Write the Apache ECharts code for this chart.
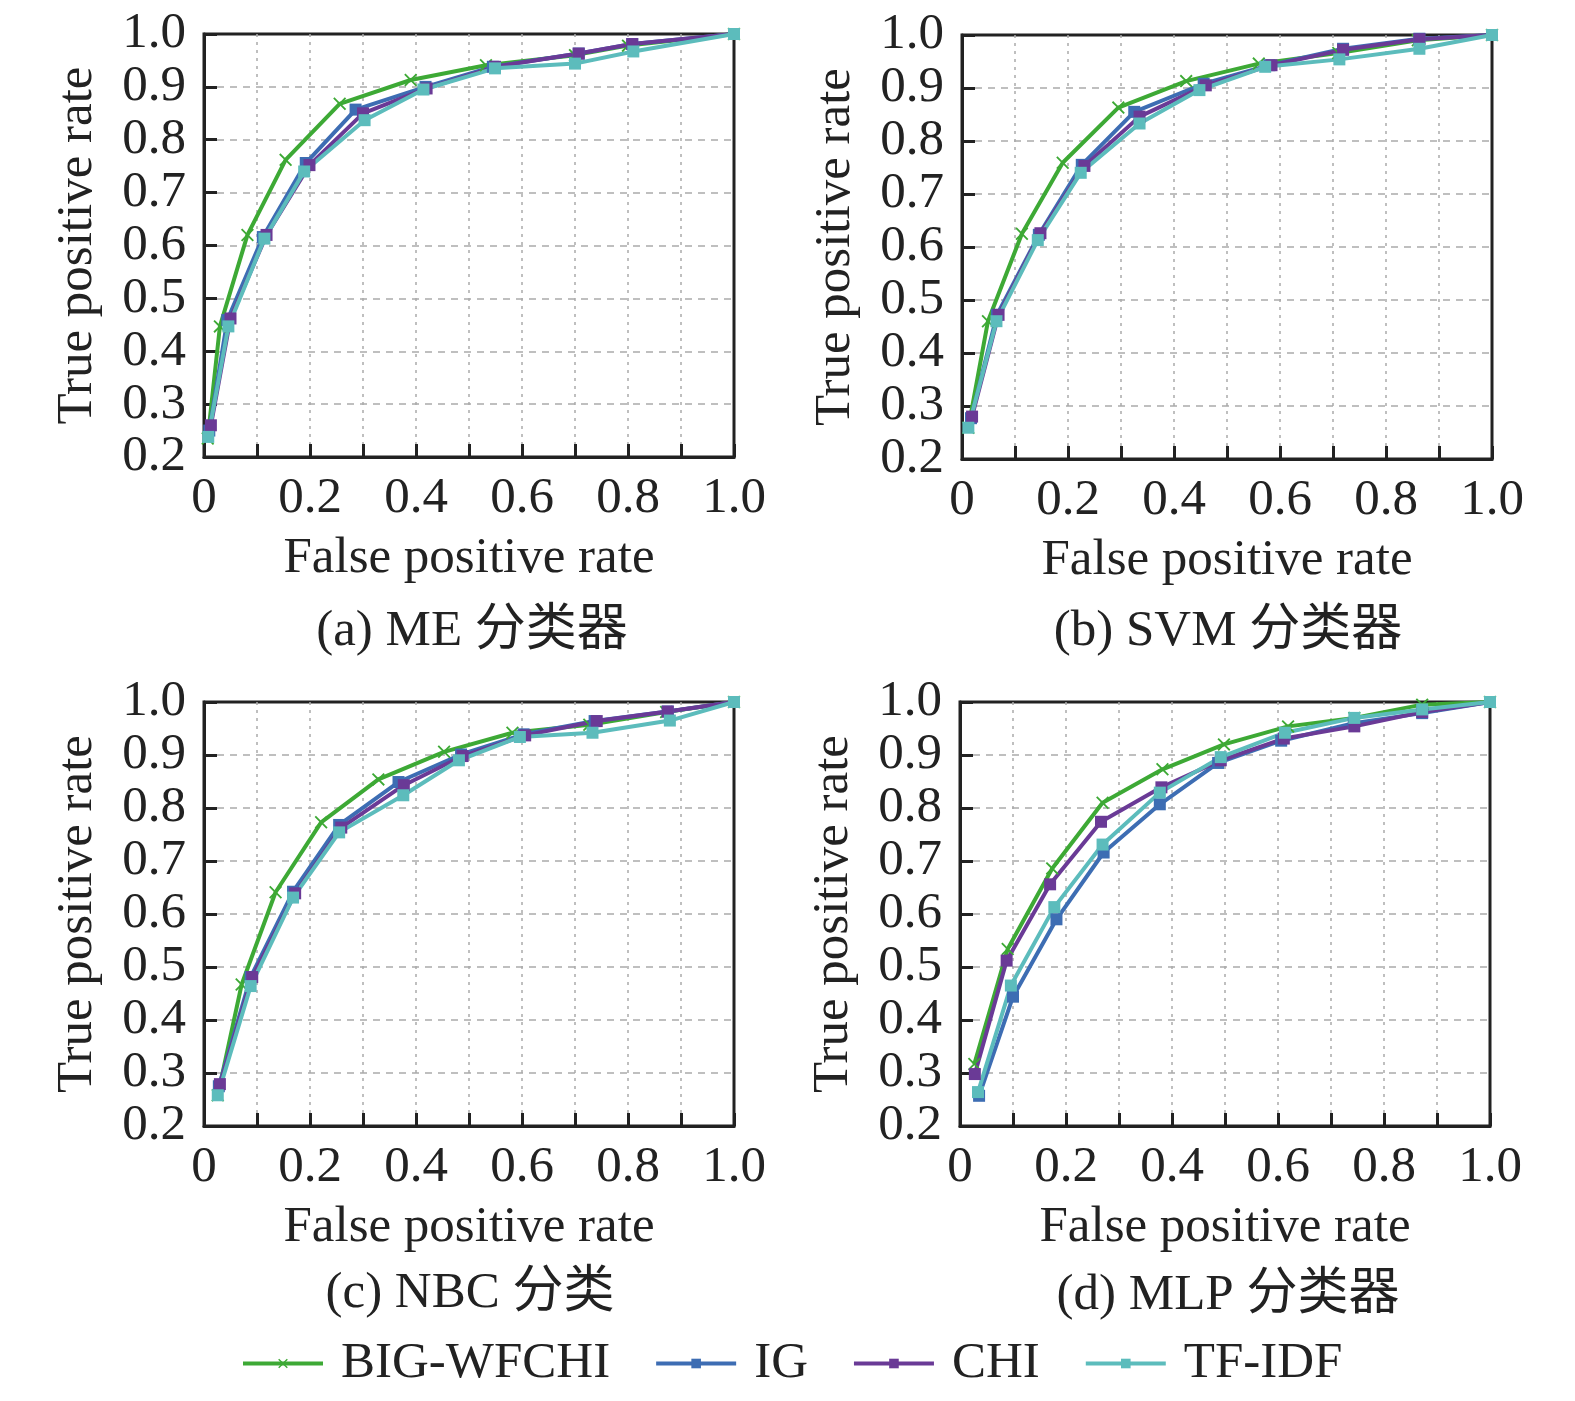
<!DOCTYPE html>
<html>
<head>
<meta charset="utf-8">
<script src="https://cdn.jsdelivr.net/npm/echarts@6/dist/echarts.min.js"></script>
<style>
  html, body { margin: 0; padding: 0; background: #fff; }
  #chart { width: 1575px; height: 1401px; }
</style>
</head>
<body>
<div id="chart"></div>
<script>
// ROC 曲线数据 [FPR, TPR]
var methodNames = ["BIG-WFCHI", "IG", "CHI", "TF-IDF"];
var methodColors = ["#3da935", "#3d6db3", "#6a3a96", "#5cbcbc"];
var captions = ["(a) ME 分类器", "(b) SVM 分类器", "(c) NBC 分类", "(d) MLP 分类器"];
var xTickLabels = ["0", "0.2", "0.4", "0.6", "0.8", "1.0"];
var yTickLabels = ["0.2", "0.3", "0.4", "0.5", "0.6", "0.7", "0.8", "0.9", "1.0"];

// (a) ME
var meBig = [[0.007,0.235],[0.03,0.447],[0.082,0.62],[0.154,0.762],[0.256,0.868],[0.39,0.913],[0.532,0.941],[0.70,0.96],[0.80,0.978],[1,1]];
var meIg  = [[0.01,0.25],[0.044,0.459],[0.111,0.616],[0.192,0.756],[0.286,0.857],[0.418,0.90],[0.545,0.938],[0.707,0.963],[0.808,0.981],[1,1]];
var meChi = [[0.013,0.26],[0.05,0.462],[0.118,0.62],[0.199,0.752],[0.30,0.85],[0.42,0.897],[0.549,0.938],[0.707,0.963],[0.808,0.981],[1,1]];
var meTf  = [[0.008,0.238],[0.046,0.447],[0.114,0.613],[0.189,0.74],[0.303,0.837],[0.414,0.895],[0.549,0.935],[0.70,0.944],[0.81,0.967],[1,1]];

// (b) SVM
var svmBig = [[0.012,0.259],[0.049,0.46],[0.113,0.625],[0.19,0.759],[0.295,0.863],[0.423,0.913],[0.56,0.946],[0.71,0.966],[0.86,0.99],[1,1]];
var svmIg  = [[0.017,0.277],[0.066,0.472],[0.145,0.623],[0.226,0.755],[0.325,0.855],[0.456,0.908],[0.58,0.943],[0.719,0.974],[0.863,0.993],[1,1]];
var svmChi = [[0.019,0.28],[0.069,0.472],[0.148,0.626],[0.231,0.753],[0.335,0.846],[0.46,0.905],[0.584,0.943],[0.719,0.972],[0.863,0.992],[1,1]];
var svmTf  = [[0.012,0.259],[0.065,0.46],[0.143,0.613],[0.224,0.74],[0.335,0.833],[0.448,0.896],[0.572,0.94],[0.712,0.954],[0.863,0.974],[1,1]];

// (c) NBC
var nbcBig = [[0.026,0.258],[0.071,0.467],[0.135,0.641],[0.221,0.773],[0.329,0.854],[0.453,0.906],[0.582,0.942],[0.727,0.957],[0.872,0.981],[1,1]];
var nbcIg  = [[0.028,0.275],[0.088,0.481],[0.168,0.642],[0.255,0.768],[0.367,0.849],[0.485,0.901],[0.603,0.939],[0.737,0.964],[0.875,0.982],[1,1]];
var nbcChi = [[0.03,0.279],[0.091,0.481],[0.172,0.639],[0.259,0.763],[0.377,0.843],[0.488,0.898],[0.606,0.937],[0.741,0.964],[0.875,0.982],[1,1]];
var nbcTf  = [[0.026,0.258],[0.088,0.464],[0.168,0.631],[0.255,0.754],[0.376,0.824],[0.481,0.89],[0.596,0.934],[0.733,0.942],[0.879,0.965],[1,1]];

// (d) MLP
var mlpBig = [[0.027,0.317],[0.09,0.534],[0.174,0.686],[0.269,0.81],[0.382,0.873],[0.498,0.92],[0.619,0.954],[0.744,0.97],[0.872,0.995],[1,1]];
var mlpIg  = [[0.036,0.257],[0.1,0.444],[0.182,0.59],[0.271,0.716],[0.377,0.807],[0.487,0.885],[0.606,0.927],[0.743,0.96],[0.872,0.979],[1,1]];
var mlpChi = [[0.028,0.298],[0.088,0.512],[0.17,0.656],[0.266,0.774],[0.38,0.839],[0.492,0.89],[0.611,0.931],[0.744,0.954],[0.872,0.981],[1,1]];
var mlpTf  = [[0.034,0.264],[0.096,0.465],[0.178,0.613],[0.269,0.731],[0.377,0.829],[0.492,0.896],[0.613,0.942],[0.744,0.97],[0.872,0.986],[1,1]];

var panelData = [
    [meBig, meIg, meChi, meTf],
    [svmBig, svmIg, svmChi, svmTf],
    [nbcBig, nbcIg, nbcChi, nbcTf],
    [mlpBig, mlpIg, mlpChi, mlpTf]
];

var FONT = "'Liberation Serif', 'Noto Sans CJK SC', serif";
var FS = 51;
// 子图位置
var grids = [
    { left: 204, top: 34, width: 530, height: 423 },
    { left: 962, top: 35, width: 530, height: 424 },
    { left: 204, top: 702, width: 530, height: 424 },
    { left: 960, top: 702, width: 530, height: 424 }
];
var captionPos = [[472, 632], [1228, 632], [470, 1294], [1228, 1296]];

var crossPath = "path://M1,0 L5,4 L9,0 L10,1 L6,5 L10,9 L9,10 L5,6 L1,10 L0,9 L4,5 L0,1 Z";
var symbols = [crossPath, "rect", "rect", "rect"];
var symbolSizes = [13, 12, 12, 12];

function fmtX(v) {
    var s = Math.abs(v) < 1e-9 ? "0" : v.toFixed(1);
    return xTickLabels.indexOf(s) >= 0 ? s : "";
}
function fmtY(v) {
    var s = v.toFixed(1);
    return yTickLabels.indexOf(s) >= 0 ? s : "";
}

var xAxes = [], yAxes = [], series = [], graphics = [];
grids.forEach(function(g, i) {
    g.show = true;
    g.borderColor = "#222";
    g.borderWidth = 3;
    g.containLabel = false;
    xAxes.push({
        gridIndex: i, type: "value", min: 0, max: 1, interval: 0.1,
        name: "False positive rate", nameLocation: "middle", nameGap: 76,
        nameTextStyle: { fontFamily: FONT, fontSize: FS, color: "#222" },
        axisLine: { show: true, lineStyle: { color: "#222", width: 3 } },
        axisTick: { show: true, inside: true, length: 13, lineStyle: { color: "#222", width: 3 } },
        axisLabel: { margin: 16, fontFamily: FONT, fontSize: FS, color: "#222", formatter: fmtX, showMinLabel: true, showMaxLabel: true },
        splitLine: { show: true, showMinLine: false, showMaxLine: false, lineStyle: { color: "#aaa", width: 1.5, type: [3, 5] } }
    });
    yAxes.push({
        gridIndex: i, type: "value", min: 0.2, max: 1, interval: 0.1,
        name: "True positive rate", nameLocation: "middle", nameGap: 101, nameRotate: 90,
        nameTextStyle: { fontFamily: FONT, fontSize: FS, color: "#222" },
        axisLine: { show: true, lineStyle: { color: "#222", width: 3 } },
        axisTick: { show: true, inside: true, length: 13, lineStyle: { color: "#222", width: 3 } },
        axisLabel: { margin: 18, fontFamily: FONT, fontSize: FS, color: "#222", formatter: fmtY, showMinLabel: true, showMaxLabel: true },
        splitLine: { show: true, showMinLine: false, showMaxLine: false, lineStyle: { color: "#aaa", width: 1.5, type: [7, 6] } }
    });
    panelData[i].forEach(function(d, j) {
        series.push({
            type: "line", name: methodNames[j],
            xAxisIndex: i, yAxisIndex: i,
            data: d,
            symbol: symbols[j], symbolSize: symbolSizes[j],
            lineStyle: { color: methodColors[j], width: 4 },
            itemStyle: { color: methodColors[j] },
            clip: false
        });
    });
    graphics.push({
        type: "text", x: captionPos[i][0], y: captionPos[i][1],
        style: { text: captions[i], fontFamily: FONT, fontSize: FS, fill: "#222", align: "center", verticalAlign: "middle" }
    });
});

var myChart = echarts.init(document.getElementById("chart"), null, { renderer: "canvas" });
myChart.setOption({
    backgroundColor: "#fff",
    animation: false,
    grid: grids,
    xAxis: xAxes,
    yAxis: yAxes,
    legend: {
        data: methodNames,
        left: 236, top: 1333,
        itemWidth: 80, itemHeight: 12, itemGap: 44,
        lineStyle: { width: 4 },
        textStyle: { fontFamily: FONT, fontSize: FS, color: "#222", padding: [0, 0, 0, 13] }
    },
    graphic: graphics,
    series: series
});
</script>
</body>
</html>
